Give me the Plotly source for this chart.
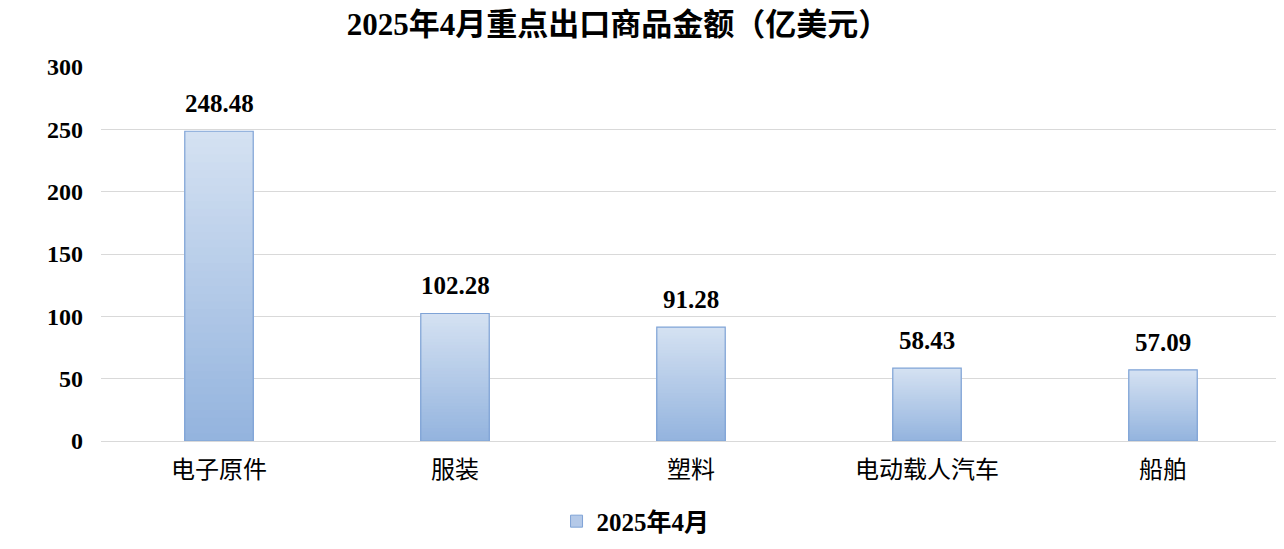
import plotly.graph_objects as go

categories = ["电子原件", "服装", "塑料", "电动载人汽车", "船舶"]
values = [248.48, 102.28, 91.28, 58.43, 57.09]
value_labels = ["248.48", "102.28", "91.28", "58.43", "57.09"]
series_name = "2025年4月"
title_text = "2025年4月重点出口商品金额（亿美元）"
y_ticks = [0, 50, 100, 150, 200, 250, 300]

SERIF = "Liberation Serif, Times New Roman, Noto Sans CJK SC, serif"
TOP = (212, 225, 242)
BOTTOM = (148, 180, 222)
OUTLINE = "#7fa3d6"
N = 40
BAR_W = 0.29

fig = go.Figure()

# vertical gradient per bar, built from nested overlaid bars
for i in range(N):
    f = (N - i) / N
    t = i / (N - 1)
    c = tuple(round(TOP[k] + (BOTTOM[k] - TOP[k]) * t) for k in range(3))
    fig.add_trace(go.Bar(
        x=categories, y=[v * f for v in values], width=BAR_W,
        marker=dict(color="rgb(%d,%d,%d)" % c, line=dict(width=0)),
        hoverinfo="skip", showlegend=False,
    ))

# outline
fig.add_trace(go.Bar(
    x=categories, y=values, width=BAR_W,
    marker=dict(color="rgba(0,0,0,0)", line=dict(color=OUTLINE, width=1.2)),
    showlegend=False, name=series_name,
))

# legend entry
fig.add_trace(go.Bar(
    x=[categories[0]], y=[None], name=series_name,
    marker=dict(color="rgb(180,201,232)", line=dict(color=OUTLINE, width=1)),
    showlegend=True,
))

# value labels
for cat, v, lab in zip(categories, values, value_labels):
    fig.add_annotation(x=cat, y=v, text=lab, showarrow=False,
                       xanchor="center", yanchor="bottom", yshift=12,
                       font=dict(family=SERIF, size=25, color="#000000", weight="bold"))

fig.update_layout(
    width=1284, height=549,
    barmode="overlay",
    plot_bgcolor="white", paper_bgcolor="white",
    margin=dict(l=93, r=11, t=59, b=116),
    title=dict(text=title_text, x=0.475, xref="container", xanchor="center",
               y=0.971, yref="container", yanchor="middle",
               font=dict(family=SERIF, size=31, color="#000000", weight="bold")),
    xaxis=dict(type="category", showgrid=False, showline=False, zeroline=False,
               ticks="", ticklabelstandoff=12,
               tickfont=dict(family=SERIF, size=24, color="#000000")),
    yaxis=dict(range=[0, 300], tickvals=y_ticks, showgrid=True,
               gridcolor="#d9d9d9", gridwidth=1, zeroline=True,
               zerolinecolor="#d9d9d9", zerolinewidth=1, showline=False,
               ticks="", ticklabelstandoff=17,
               tickfont=dict(family=SERIF, size=24, color="#000000", weight="bold")),
    legend=dict(orientation="h", x=0.453, xanchor="center", y=-0.215,
                yanchor="middle", bgcolor="rgba(0,0,0,0)",
                font=dict(family=SERIF, size=25, color="#000000", weight="bold")),
    showlegend=True,
)

fig.write_html("out.html")
